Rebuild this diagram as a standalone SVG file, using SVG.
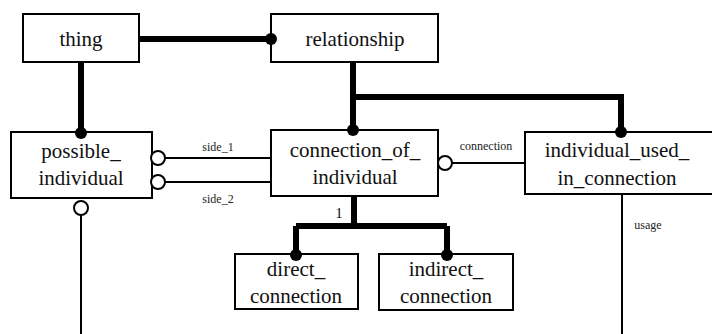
<svg xmlns="http://www.w3.org/2000/svg" width="712" height="334" viewBox="0 0 712 334">
<style>
.box{fill:#fff;stroke:#000;stroke-width:2}
.t{font-size:21px;text-anchor:middle;fill:#111}
.s{font-size:12px;text-anchor:middle;fill:#222}
.thick{stroke:#000;stroke-width:6;fill:none}
.thin{stroke:#000;stroke-width:2;fill:none}
.dot{fill:#000}
.open{fill:#fff;stroke:#000;stroke-width:2}
</style>
<rect width="712" height="334" fill="#fff"/>
<g font-family="Liberation Serif, DejaVu Serif, serif">
<g id="thing"><rect class="box" x="23" y="14" width="116" height="48"/><text class="t" x="81" y="46">thing</text></g>
<g id="relationship"><rect class="box" x="271" y="14" width="167" height="48"/><text class="t" x="355" y="46">relationship</text></g>
<g id="possible_individual"><rect class="box" x="11" y="132" width="141" height="66"/><text class="t" x="81" y="158">possible_</text><text class="t" x="81" y="185">individual</text></g>
<g id="connection_of_individual"><rect class="box" x="271" y="130" width="167" height="66"/><text class="t" x="355" y="157">connection_of_</text><text class="t" x="355" y="184">individual</text></g>
<g id="individual_used_in_connection"><rect class="box" x="525" y="132" width="200" height="62"/><text class="t" x="617" y="157">individual_used_</text><text class="t" x="617" y="185">in_connection</text></g>
<g id="direct_connection"><rect class="box" x="235" y="254" width="123" height="55"/><text class="t" x="296" y="276">direct_</text><text class="t" x="296" y="303">connection</text></g>
<g id="indirect_connection"><rect class="box" x="379" y="254" width="134" height="56"/><text class="t" x="446" y="276">indirect_</text><text class="t" x="446" y="303">connection</text></g>
<g id="connectors">
<path class="thick" d="M139 39H271"/>
<circle class="dot" cx="271" cy="39" r="6"/>
<path class="thick" d="M81 62V132"/>
<circle class="dot" cx="81" cy="133" r="6"/>
<path class="thick" d="M353 62V130M353 97H621V132"/>
<circle class="dot" cx="353" cy="130" r="6"/>
<circle class="dot" cx="621" cy="132" r="6"/>
<path class="thin" d="M165 158H271M165 182H271"/>
<circle class="open" cx="158" cy="158" r="7"/>
<circle class="open" cx="158" cy="182" r="7"/>
<text class="s" x="218" y="151">side_1</text>
<text class="s" x="218" y="203">side_2</text>
<path class="thin" d="M452 163H525"/>
<circle class="open" cx="445" cy="163" r="7"/>
<text class="s" x="486" y="150" font-size="11">connection</text>
<path class="thin" d="M81 215V334"/>
<circle class="open" cx="81" cy="208" r="7"/>
<path class="thin" d="M622 194V334"/>
<text class="s" x="648" y="229">usage</text>
<path class="thick" d="M354 196V226M296 226H447M296 226V255M447 226V255"/>
<circle class="dot" cx="296" cy="255" r="6"/>
<circle class="dot" cx="447" cy="255" r="6"/>
<text x="339" y="218" font-size="14" text-anchor="middle">1</text>
</g>
</g>
</svg>
